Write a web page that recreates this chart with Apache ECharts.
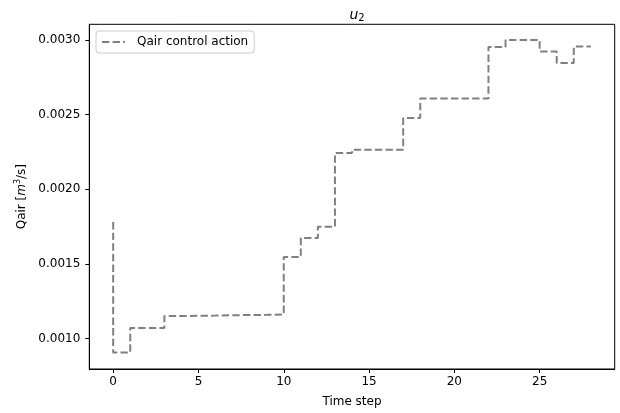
<!DOCTYPE html>
<html lang="en">
<head>
    <meta charset="UTF-8">
    <title>u2</title>
    <style>
        html, body { margin: 0; padding: 0; background: #fff; }
    </style>
</head>
<body>

<div id="main" style="width: 620px;height:413px;"></div>

<script src="https://cdn.jsdelivr.net/npm/echarts@6/dist/echarts.min.js"></script>
<script type="text/javascript">
    // data
    var timeSteps = [0, 1, 2, 3, 4, 5, 6, 7, 8, 9, 10, 11, 12, 13, 14,
        15, 16, 17, 18, 19, 20, 21, 22, 23, 24, 25, 26, 27, 28];
    var qairValues = [0.00178, 0.000905, 0.00107, 0.00107, 0.00115, 0.001152, 0.001153, 0.001155,
        0.001157, 0.001158, 0.00116, 0.001546, 0.001674, 0.001749, 0.002243,
        0.002265, 0.002265, 0.002265, 0.002477, 0.002608, 0.002608, 0.002608, 0.002608,
        0.002954, 0.003, 0.003, 0.002924, 0.002847, 0.002957];
    var xTicks = [0, 5, 10, 15, 20, 25];
    var yTicks = [0.0010, 0.0015, 0.0020, 0.0025, 0.0030];

    var font = 'DejaVu Sans';

    var points = timeSteps.map(function (t, i) {
        return [t, qairValues[i]];
    });

    var myChart = echarts.init(document.getElementById('main'));

    var option = {
        animation: false,
        backgroundColor: '#fff',
        textStyle: { fontFamily: font },
        title: {
            text: '{u|u}{s|2}',
            left: 352,
            top: 2,
            textAlign: 'center',
            textStyle: {
                fontWeight: 'normal',
                rich: {
                    u: { fontFamily: font, fontStyle: 'italic', fontWeight: 'normal', fontSize: 14, color: '#000' },
                    s: { fontFamily: font, fontWeight: 'normal', fontSize: 10, color: '#000', verticalAlign: 'bottom', padding: [6, 0, 0, 0] }
                }
            }
        },
        legend: {
            left: 96,
            top: 31,
            padding: [5, 6, 5, 5],
            itemWidth: 23,
            itemHeight: 10,
            backgroundColor: '#fff',
            borderColor: '#cccccc',
            borderWidth: 1,
            borderRadius: 3,
            itemStyle: { opacity: 0 },
            textStyle: { fontFamily: font, fontSize: 12, color: '#000', padding: [0, 0, 0, 7] },
            data: ['Qair control action']
        },
        grid: {
            left: 89.3,
            top: 24.3,
            right: 5.3,
            bottom: 40.7,
            show: true,
            borderColor: '#000',
            borderWidth: 1,
            containLabel: false
        },
        xAxis: {
            type: 'value',
            min: -1.4,
            max: 29.4,
            name: 'Time step',
            nameLocation: 'middle',
            nameGap: 27,
            nameTextStyle: { fontFamily: font, fontSize: 12, color: '#000' },
            axisLine: { show: true, onZero: false, lineStyle: { color: '#000', width: 1 } },
            axisTick: { show: true, inside: false, length: 4, lineStyle: { color: '#000' }, customValues: xTicks },
            axisLabel: { fontFamily: font, fontSize: 12, color: '#000', margin: 7, customValues: xTicks },
            splitLine: { show: false }
        },
        yAxis: {
            type: 'value',
            min: 0.000795,
            max: 0.003106,
            name: '{t|Qair [}{i|m}{p|3}{t|/s]}',
            nameLocation: 'middle',
            nameGap: 60,
            nameRotate: 90,
            nameTextStyle: {
                rich: {
                    t: { fontFamily: font, fontSize: 12, color: '#000' },
                    i: { fontFamily: font, fontSize: 12, color: '#000', fontStyle: 'italic' },
                    p: { fontFamily: font, fontSize: 8, color: '#000', verticalAlign: 'top', padding: [0, 0, 6, 0] }
                }
            },
            axisLine: { show: true, onZero: false, lineStyle: { color: '#000', width: 1 } },
            axisTick: { show: true, inside: false, length: 4, lineStyle: { color: '#000' }, customValues: yTicks },
            axisLabel: {
                fontFamily: font, fontSize: 12, color: '#000', margin: 9,
                customValues: yTicks,
                formatter: function (v) { return v.toFixed(4); }
            },
            splitLine: { show: false }
        },
        series: [
            {
                name: 'Qair control action',
                type: 'line',
                step: 'start',
                symbol: 'none',
                lineStyle: { color: '#808080', width: 2, type: [7.4, 3.2] },
                itemStyle: { color: '#808080' },
                data: points
            }
        ]
    };

    myChart.setOption(option);
</script>
</body>
</html>
